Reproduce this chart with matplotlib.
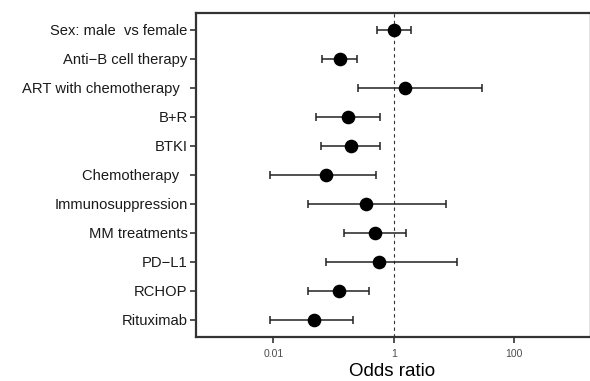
import matplotlib
matplotlib.use("Agg")
import matplotlib.pyplot as plt
import numpy as np

plt.rcParams["font.family"] = ["Liberation Sans", "DejaVu Sans"]

# =============================================================================
# Data (top row first)
# =============================================================================

labels = [
    "Sex: male  vs female",
    "Anti\u2212B cell therapy",
    "ART with chemotherapy  ",
    "B+R",
    "BTKI",
    "Chemotherapy  ",
    "Immunosuppression",
    "MM treatments",
    "PD\u2212L1",
    "RCHOP",
    "Rituximab",
]
odds_ratio = [1.0, 0.127, 1.54, 0.174, 0.193, 0.074, 0.34, 0.48, 0.57, 0.124, 0.048]
ci_low = [0.53, 0.064, 0.25, 0.051, 0.061, 0.0087, 0.037, 0.15, 0.076, 0.037, 0.0087]
ci_high = [1.89, 0.246, 29.6, 0.586, 0.60, 0.51, 7.2, 1.58, 11.3, 0.39, 0.206]

x_ticks = [0.01, 1, 100]
x_tick_labels = ["0.01", "1", "100"]

# =============================================================================
# Plot
# =============================================================================

fig = plt.figure(figsize=(5.9, 3.81), dpi=100)
ax = fig.add_axes([0.332, 0.1155, 0.666, 0.8505])

n = len(labels)
ypos = np.arange(n, 0, -1)
or_arr = np.array(odds_ratio)
err = np.vstack([or_arr - np.array(ci_low), np.array(ci_high) - or_arr])

ax.axvline(1, color="#333333", linestyle=(0, (3, 3)), linewidth=0.8, zorder=1)

ax.errorbar(
    or_arr,
    ypos,
    xerr=err,
    fmt="o",
    color="black",
    ecolor="#222222",
    elinewidth=1.1,
    capsize=2.6,
    capthick=1.1,
    markersize=8.8,
    zorder=3,
)

ax.set_xscale("log")
ax.set_xlim(10 ** -3.286, 10 ** 3.236)
ax.set_ylim(0.414, 11.586)
ax.set_xticks(x_ticks)
ax.set_xticklabels(x_tick_labels)
ax.minorticks_off()
ax.set_yticks(ypos)
ax.set_yticklabels(labels)

ax.tick_params(axis="y", length=4, width=1.2, color="#333333", labelsize=10.6,
               labelcolor="#1a1a1a", pad=2)
ax.tick_params(axis="x", length=4, width=1.2, color="#333333", labelsize=7.5,
               labelcolor="#4d4d4d", pad=4.5)

for side in ["top", "left", "bottom"]:
    ax.spines[side].set_linewidth(1.6)
    ax.spines[side].set_color("#333333")
ax.spines["right"].set_linewidth(0.6)
ax.spines["right"].set_color("#dddddd")

ax.set_xlabel("Odds ratio", fontsize=13.5, labelpad=3)

fig.savefig("out.png", dpi=100, facecolor="white")
plt.close(fig)
